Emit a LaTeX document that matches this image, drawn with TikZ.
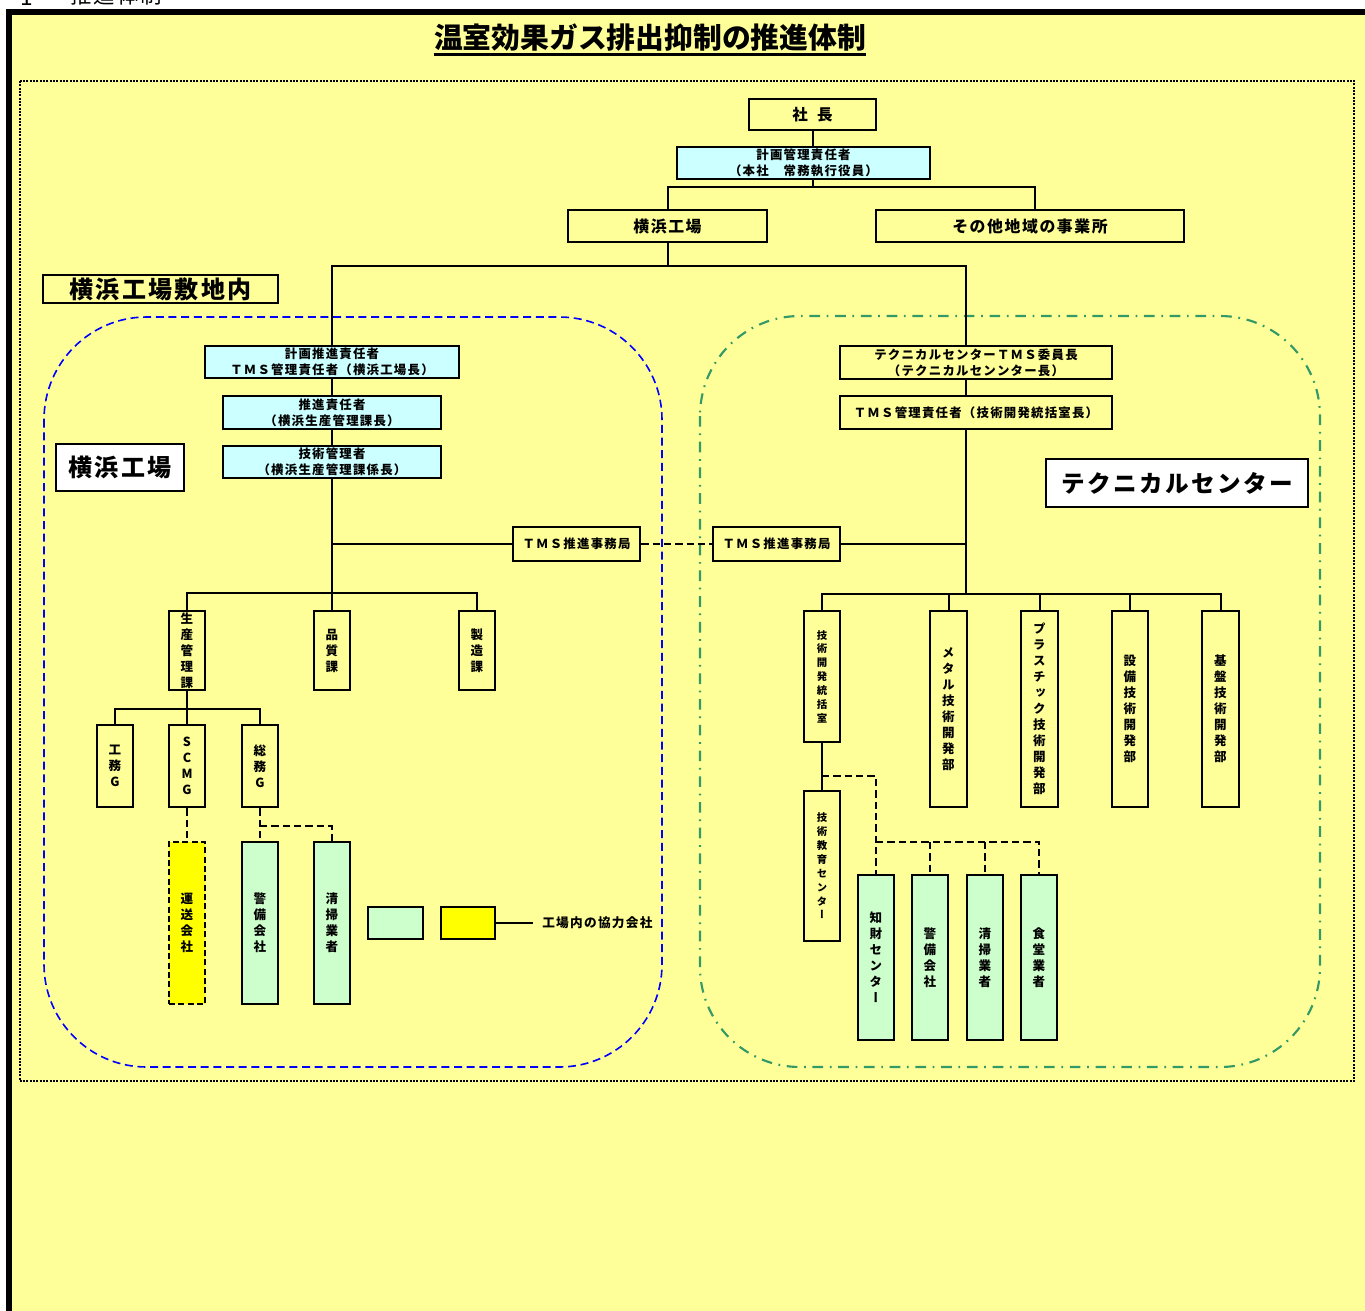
\documentclass[tikz,border=0pt]{standalone}
\usepackage{fontspec}
\setmainfont{Noto Sans CJK JP}[LetterSpace=10]
\newfontfamily\tfont{Noto Sans CJK JP}
\newfontfamily\vjp{Noto Sans CJK JP}[RawFeature=+vert]
\usetikzlibrary{calc}
\definecolor{bgY}{HTML}{FFFF99}
\definecolor{cyF}{HTML}{CCFFFF}
\definecolor{grF}{HTML}{CCFFCC}
\definecolor{yeF}{HTML}{FFFF00}
\definecolor{grL}{HTML}{339966}
\definecolor{blL}{HTML}{0000FF}
\newcommand\bx[7]{%
  \pgfmathsetmacro\bxw{(#4-#2)*0.75}%
  \pgfmathsetmacro\bxh{(#5-#3)*0.75}%
  \node[#6, minimum width=\bxw pt, minimum height=\bxh pt] (#1) at ({(#2+#4)/2},{(#3+#5)/2}) {#7};}
\begin{document}
\begin{tikzpicture}[x=0.75pt,y=-0.75pt,
  conn/.style={line width=1.5pt},
  dconn/.style={line width=1.5pt, dash pattern=on 5.5pt off 3pt},
  obox/.style={draw, line width=2pt, inner sep=0pt, align=center, fill=bgY,
               font=\bfseries\fontsize{9.3}{12}\selectfont},
  ybox/.style={obox},
  cbox/.style={obox, fill=cyF},
  vbox/.style={obox, font=\vjp\bfseries\fontsize{9.4}{12}\selectfont},
  vsbox/.style={obox, font=\vjp\bfseries\fontsize{7.8}{10.4}\selectfont},
  lbox/.style={draw, line width=1pt, inner sep=0pt, font=\bfseries\fontsize{18}{18}\selectfont},
  mid/.style={font=\bfseries\fontsize{11.9}{12}\selectfont}
]
\useasboundingbox (0,0) rectangle (1365,1311);
\clip (0,0) rectangle (1365,1311);
\fill[white] (0,0) rectangle (1365,1311);
% caption at top (cut off as in the reference)
\node[anchor=base west, inner sep=0pt, font=\fontsize{17}{17}\selectfont] (num) at (20,5) {1};
\node[anchor=base west, inner sep=0pt, font=\fontsize{16}{16}\selectfont] (cap) at (70,3.5) {推進体制};
% frame
\filldraw[fill=bgY, draw=black, line width=4.5pt] (9,12) rectangle (1400,1400);
% title
\node[anchor=base, inner sep=0pt, font=\tfont\bfseries\fontsize{21.6}{22}\selectfont] (title) at (650,48.5) {温室効果ガス排出抑制の推進体制};
\draw[line width=2.2pt] ([yshift=-4.5pt]title.base west) -- ([yshift=-4.5pt]title.base east);
% dotted area
\draw[line width=1.5pt, dash pattern=on 1.5pt off 1pt] (19.5,81) rectangle (1354,1081);
% regions
\draw[blL, line width=1.2pt, dash pattern=on 6pt off 3.5pt, rounded corners=77pt] (44,317) rectangle (662,1067);
\draw[grL, line width=1.6pt, dash pattern=on 8pt off 5pt on 1.3pt off 5pt, rounded corners=75pt] (700,316) rectangle (1320,1067);
% labels
\bx{lblA}{43}{275}{278}{303}{lbox, fill=bgY}{横浜工場敷地内}
\bx{lblB}{56}{444}{184}{491}{lbox, fill=white}{横浜工場}
\bx{lblC}{1046}{459}{1308}{507}{lbox, fill=white, font=\bfseries\fontsize{17.7}{18}\selectfont}{テクニカルセンター}
% top
\bx{pres}{749}{99}{876}{130}{ybox, font=\bfseries\fontsize{11.6}{12}\selectfont}{社\hspace{7pt}長}
\bx{keik}{677}{147}{930}{179}{cbox}{計画管理責任者\\（本社　常務執行役員）}
\bx{yoko}{568}{210}{767}{242}{ybox, mid}{横浜工場}
\bx{sonota}{876}{210}{1184}{242}{ybox, mid}{その他地域の事業所}
% left
\bx{kst}{205}{346}{459}{378}{cbox}{計画推進責任者\\ＴＭＳ管理責任者（横浜工場長）}
\bx{sui}{223}{396}{441}{429}{cbox}{推進責任者\\（横浜生産管理課長）}
\bx{gij}{223}{446}{441}{478}{cbox}{技術管理者\\（横浜生産管理課係長）}
\bx{tmsL}{513}{527}{640}{561}{ybox}{ＴＭＳ推進事務局}
\bx{tmsR}{713}{527}{840}{561}{ybox}{ＴＭＳ推進事務局}
\bx{seisan}{169}{611}{205}{690}{vbox}{生\\産\\管\\理\\課}
\bx{hin}{314}{611}{350}{690}{vbox}{品\\質\\課}
\bx{seizo}{459}{611}{495}{690}{vbox}{製\\造\\課}
\bx{koumu}{97}{725}{133}{807}{vbox}{工\\務\\G}
\bx{scmg}{169}{725}{205}{807}{vbox}{S\\C\\M\\G}
\bx{soumu}{242}{725}{278}{807}{vbox}{総\\務\\G}
\bx{unso}{169}{842}{205}{1004}{vbox, fill=yeF, dash pattern=on 4.5pt off 2.5pt}{運\\送\\会\\社}
\bx{keibiL}{242}{842}{278}{1004}{vbox, fill=grF}{警\\備\\会\\社}
\bx{seisouL}{314}{842}{350}{1004}{vbox, fill=grF}{清\\掃\\業\\者}
\bx{legG}{368}{907}{423}{939}{obox, fill=grF}{}
\bx{legY}{441}{907}{495}{939}{obox, fill=yeF}{}
\node[anchor=west, inner xsep=6.75pt, inner ysep=0pt, font=\bfseries\fontsize{9.5}{12}\selectfont] (legT) at (533,923) {工場内の協力会社};
% right
\bx{tcc}{840}{346}{1112}{379}{ybox}{テクニカルセンターＴＭＳ委員長\\（テクニカルセンンター長）}
\bx{tcm}{840}{396}{1112}{429}{ybox}{ＴＭＳ管理責任者（技術開発統括室長）}
\bx{gkt}{804}{611}{840}{742}{vsbox}{技\\術\\開\\発\\統\\括\\室}
\bx{metal}{930}{611}{967}{807}{vbox}{メ\\タ\\ル\\技\\術\\開\\発\\部}
\bx{plas}{1021}{611}{1058}{807}{vbox}{プ\\ラ\\ス\\チ\\ッ\\ク\\技\\術\\開\\発\\部}
\bx{setu}{1112}{611}{1148}{807}{vbox}{設\\備\\技\\術\\開\\発\\部}
\bx{kiban}{1202}{611}{1239}{807}{vbox}{基\\盤\\技\\術\\開\\発\\部}
\bx{gky}{804}{791}{840}{941}{vsbox}{技\\術\\教\\育\\セ\\ン\\タ\\ー}
\bx{chiz}{858}{875}{894}{1040}{vbox, fill=grF}{知\\財\\セ\\ン\\タ\\ー}
\bx{keibiR}{912}{875}{948}{1040}{vbox, fill=grF}{警\\備\\会\\社}
\bx{seisouR}{967}{875}{1003}{1040}{vbox, fill=grF}{清\\掃\\業\\者}
\bx{shoku}{1021}{875}{1057}{1040}{vbox, fill=grF}{食\\堂\\業\\者}
% connectors: top
\draw[conn] (pres.south) -- (pres.south |- keik.north);
\draw[conn] (pres.south |- keik.south) -- ++(0,7) coordinate (j1);
\draw[conn] (yoko.north) |- (j1);
\draw[conn] (j1) -| ([xshift=3.75pt]sonota.north);
\draw[conn] (yoko.south) -- ++(0,24) coordinate (j2);
\coordinate (rsp) at (966,266);
\draw[conn] (kst.north) |- (rsp) -- (rsp |- tcc.north);
% left spine
\draw[conn] (kst.south) -- (sui.north);
\draw[conn] (sui.south) -- (gij.north);
\draw[conn] (gij.south) -- (hin.north);
\draw[conn] (gij.south |- tmsL.west) -- (tmsL.west);
\draw[dconn] (tmsL.east) -- (tmsR.west);
\draw[conn] (tmsR.east) -- (rsp |- tmsR.east);
\draw[conn] (seisan.north) -- ++(0,-17) -| (seizo.north);
\draw[conn] (seisan.south) -- ++(0,18) coordinate (j4);
\draw[conn] (koumu.north) |- (j4) -| (soumu.north);
\draw[conn] (j4) -- (scmg.north);
\draw[dconn] (scmg.south) -- (unso.north);
\draw[dconn] (soumu.south) -- (keibiL.north);
\draw[dconn] ([yshift=-13.5pt]soumu.south) -| (seisouL.north);
\draw[line width=0.8pt] (legY.east) -- (legT.west);
% right spine
\draw[conn] (rsp |- tcc.south) -- (rsp |- tcm.north);
\draw[conn] (rsp |- tcm.south) -- (rsp |- 0,594) coordinate (j3);
\draw[conn] (gkt.north) |- (j3) -| (kiban.north);
\draw[conn] (metal.north) -- (metal.north |- j3);
\draw[conn] (plas.north) -- (plas.north |- j3);
\draw[conn] (setu.north) -- (setu.north |- j3);
\draw[conn] (gkt.south) -- (gky.north);
\coordinate (j5) at (876,842);
\draw[dconn] ([yshift=-24.75pt]gkt.south) -| (chiz.north);
\draw[dconn] (j5) -| (shoku.north);
\draw[dconn] (j5 -| keibiR.north) -- (keibiR.north);
\draw[dconn] (j5 -| seisouR.north) -- (seisouR.north);
\end{tikzpicture}
\end{document}
